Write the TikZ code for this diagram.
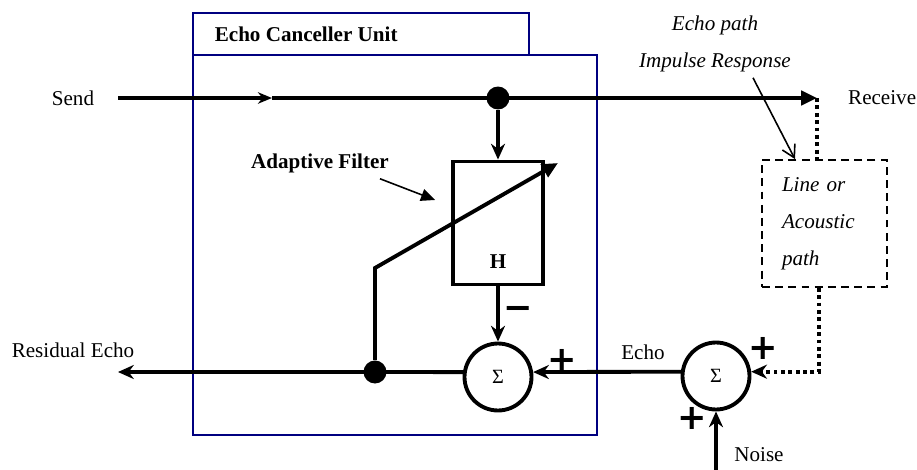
\documentclass[tikz,border=0pt]{standalone}
\usepackage{fontspec}
\setmainfont{Liberation Serif}
\newfontfamily\signfont{DejaVu Sans}
\usepackage{tikz}
\usetikzlibrary{arrows.meta, positioning, calc}
\tikzset{
    unitbox/.style={rectangle, draw=UnitNavy, line width=1.6pt, inner sep=0pt},
    filtbox/.style={rectangle, draw, line width=2.2pt, minimum width=1.8cm, minimum height=2.46cm, inner sep=0pt},
    sumbox/.style={circle, draw, line width=2.2pt, minimum size=1.34cm, inner sep=0pt, font=\fontsize{11.5}{12}\selectfont},
    echobox/.style={rectangle, draw, line width=1pt, dash pattern=on 4.5pt off 3pt, minimum width=2.5cm, minimum height=2.54cm, text width=1.7cm, inner xsep=0.4cm, align=left, font=\fontsize{12}{21}\selectfont\itshape},
    junction/.style={circle, fill, inner sep=0pt, minimum size=0.46cm},
    sig/.style={line width=2.2pt},
    arr/.style={sig, -{Stealth[length=9pt, width=8pt]}},
    arr_s/.style={sig, -{Stealth[length=8pt, width=6.5pt]}},
    arr_t/.style={sig, -{Triangle[length=9pt, width=8pt]}},
    arr_d/.style={sig, dash pattern=on 2.2pt off 2pt, -{Stealth[length=9pt, width=8pt]}},
    dotline/.style={sig, dash pattern=on 2.2pt off 2pt},
    arr_thin/.style={line width=0.9pt, -{Triangle[length=8pt, width=7pt]}},
    arr_open/.style={line width=0.9pt, -{Straight Barb[length=7pt, width=8pt]}},
    lbl/.style={font=\fontsize{12}{14}\selectfont},
    lbl_b/.style={font=\fontsize{12}{14}\selectfont\bfseries},
    lbl_i/.style={font=\fontsize{12}{14}\selectfont\itshape},
    sign/.style={font=\signfont\bfseries\fontsize{20}{20}\selectfont, inner sep=0pt},
}
\definecolor{UnitNavy}{HTML}{000080}

\begin{document}
\begin{tikzpicture}[x=0.02cm, y=-0.02cm]
\useasboundingbox (0,0) rectangle (917,470);
% Echo canceller unit
\node[unitbox, minimum width=8.08cm, minimum height=7.6cm] (unit) at (395,245) {};
\node[unitbox, minimum width=6.72cm, minimum height=0.84cm] (tab) at (361,34) {};
\node[lbl_b, right=0.34cm of tab.west] (title) {Echo Canceller Unit};

% Adaptive filter
\node[filtbox] (filt) at (498,223) {};
\node[lbl_b] at ([yshift=0.5cm]filt.south) {H};
\node[lbl_b] (aflbl) at (320,163) {Adaptive Filter};

% Summing points
\node[sumbox] (sumc) at (498,377) {Σ};
\node[sumbox] (sumn) at (716,376) {Σ};

% Line or acoustic path
\node[echobox] (epath) at (824.5,223.5) {Line or\\Acoustic\\path};

% Labels
\node[lbl] (send) at (73,98) {Send};
\node[lbl, anchor=west] (recv) at (842,98) {Receive};
\node[lbl] (resid) at (73,350) {Residual Echo};
\node[lbl] (echo) at (643,352) {Echo};
\node[lbl] (noise) at (759,455) {Noise};
\node[lbl_i] (eptitle) at (715,25) {Echo path};
\node[lbl_i] (impulse) at (715,62) {Impulse Response};

% Free ends and taps
\coordinate (sendin) at (118,98);
\coordinate (sendmid) at (272,98);
\coordinate (rxtip) at (817,98);
\coordinate (resout) at (118,372);
\coordinate (bend) at (375,268);
\coordinate (adapt) at (558,163);
\coordinate (noisein) at (716,470);
\node[junction] (tapsend) at (498,98) {};
\node[junction] (tapres) at (375,372) {};

% Send path
\draw[arr_s] (sendin) -- (sendmid);
\draw[arr_t] (sendmid) -- (rxtip);
\draw[arr] (tapsend) -- (filt.north);
% Filter output and residual
\draw[arr] (filt.south) -- (sumc.north);
\draw[arr] (sumc.172) -- (resout);
\draw[arr_t] (tapres) -- (bend) -- (adapt);
\draw[arr_thin] ([xshift=-0.3cm]aflbl.south east) -- ([xshift=-0.32cm, yshift=0.46cm]filt.west);
% Echo and noise
\draw[arr] (sumn.173) -- (sumc.8);
\draw[arr] (noisein) -- (sumn.south);
\draw[dotline] (rxtip) -- (rxtip |- epath.north);
\draw[arr_d] ([xshift=-0.11cm]epath.south) |- (sumn.7);
\draw[arr_open] ([xshift=0.76cm]impulse.south) -- ([xshift=-0.59cm]epath.north);

% Signs
\node[sign] at (518,313) {−};
\node[sign] at (562,360) {+};
\node[sign] at (763,348) {+};
\node[sign] at (692,418) {+};

\end{tikzpicture}
\end{document}
